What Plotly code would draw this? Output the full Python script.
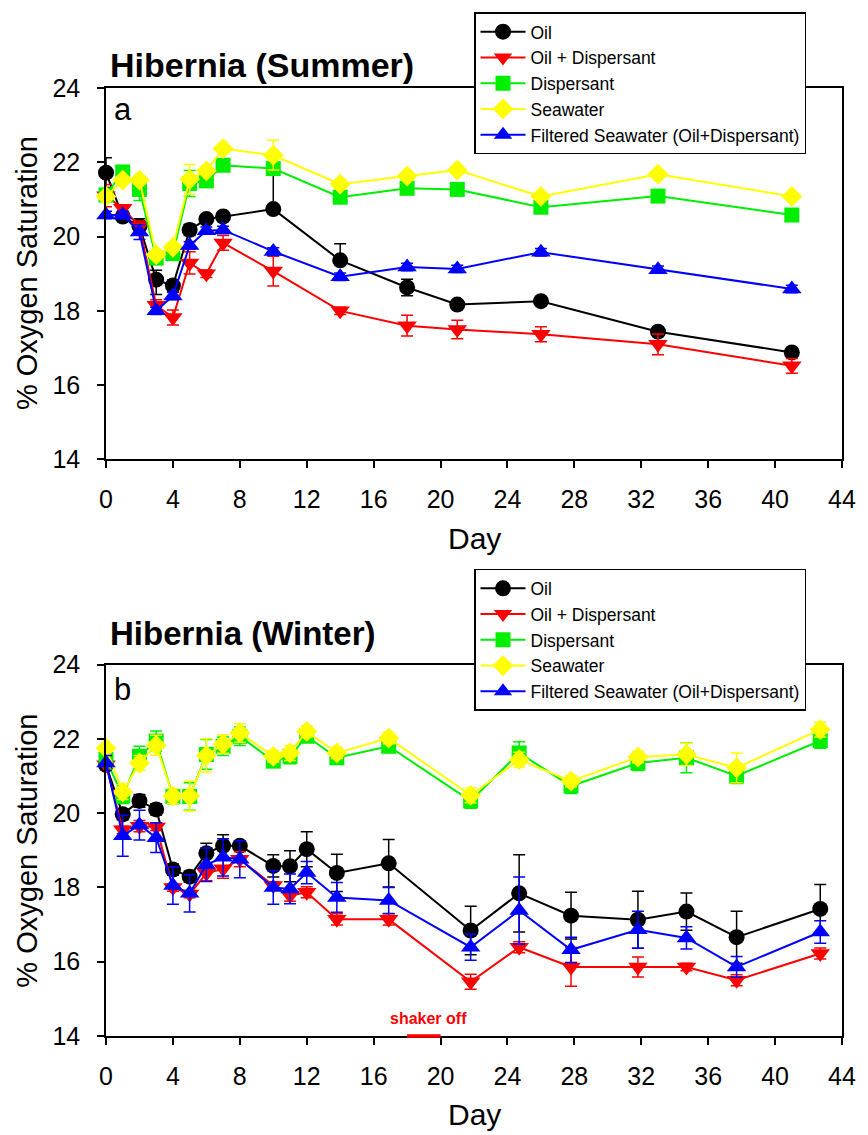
import plotly.graph_objects as go

# ---------------- data ----------------
series_names = ["Oil", "Oil + Dispersant", "Dispersant", "Seawater",
                "Filtered Seawater (Oil+Dispersant)"]

# Panel a: Hibernia (Summer)
days_summer = [0, 1, 2, 3, 4, 5, 6, 7, 10, 14, 18, 21, 26, 33, 41]
oil_s = [21.72, 20.54, 20.28, 18.84, 18.68, 20.18, 20.47, 20.54, 20.74, 19.36, 18.63, 18.17, 18.26, 17.44, 16.88]
oil_disp_s = [21.10, 20.76, 20.27, 18.15, 17.82, 19.29, 19.00, 19.83, 19.07, 18.00, 17.60, 17.50, 17.37, 17.10, 16.52]
disp_s = [21.12, 21.74, 21.27, 19.42, 19.54, 21.43, 21.50, 21.92, 21.83, 21.06, 21.30, 21.27, 20.79, 21.09, 20.58]
sea_s = [21.08, 21.52, 21.52, 19.51, 19.71, 21.54, 21.77, 22.37, 22.19, 21.41, 21.63, 21.79, 21.08, 21.68, 21.08]
filt_s = [20.58, 20.58, 20.12, 18.00, 18.40, 19.76, 20.16, 20.18, 19.60, 18.92, 19.18, 19.13, 19.58, 19.11, 18.59]

oil_s_err_up = [0.40, 0.10, 0.20, 0.25, 0.15, 0.15, 0.10, 0.10, 1.20, 0.45, 0.22, 0.10, 0.10, 0.10, 0.10]
oil_s_err_dn = [0.40, 0.10, 0.20, 0.40, 0.15, 0.15, 0.10, 0.10, 0.00, 0.10, 0.22, 0.10, 0.10, 0.10, 0.10]
oil_disp_s_err = [0.30, 0.10, 0.15, 0.15, 0.20, 0.30, 0.10, 0.20, 0.40, 0.10, 0.28, 0.25, 0.20, 0.28, 0.20]
disp_s_err = [0.15, 0.10, 0.30, 0.15, 0.10, 0.35, 0.10, 0.10, 0.15, 0.10, 0.10, 0.10, 0.10, 0.10, 0.10]
sea_s_err = [0.10, 0.10, 0.10, 0.10, 0.10, 0.40, 0.10, 0.10, 0.40, 0.12, 0.10, 0.10, 0.10, 0.10, 0.10]
filt_s_err = [0.10, 0.10, 0.20, 0.10, 0.10, 0.10, 0.10, 0.10, 0.10, 0.10, 0.10, 0.10, 0.10, 0.10, 0.10]

# Panel b: Hibernia (Winter)
days_winter = [0, 1, 2, 3, 4, 5, 6, 7, 8, 10, 11, 12, 13.8, 16.9, 21.8, 24.7, 27.8, 31.8, 34.7, 37.7, 42.7]
oil_w = [21.30, 19.97, 20.33, 20.10, 18.48, 18.29, 18.92, 19.12, 19.12, 18.58, 18.57, 19.03, 18.39, 18.65, 16.84, 17.84, 17.24, 17.13, 17.35, 16.66, 17.42]
oil_disp_w = [21.30, 19.55, 19.65, 19.63, 18.00, 17.82, 18.38, 18.50, 18.76, 18.05, 17.78, 17.87, 17.14, 17.14, 15.46, 16.39, 15.86, 15.86, 15.86, 15.50, 16.22]
disp_w = [21.45, 20.46, 21.53, 21.94, 20.45, 20.45, 21.58, 21.80, 22.07, 21.40, 21.53, 22.07, 21.49, 21.80, 20.33, 21.62, 20.73, 21.35, 21.49, 21.00, 21.95]
sea_w = [21.75, 20.57, 21.35, 21.83, 20.46, 20.46, 21.55, 21.86, 22.16, 21.53, 21.62, 22.20, 21.62, 22.02, 20.48, 21.44, 20.86, 21.51, 21.58, 21.22, 22.25]
filt_w = [21.35, 19.39, 19.68, 19.34, 18.05, 17.84, 18.61, 18.81, 18.76, 18.00, 17.96, 18.40, 17.73, 17.65, 16.39, 17.38, 16.32, 16.86, 16.64, 15.86, 16.80]

oil_w_err = [0.15, 0.15, 0.17, 0.15, 0.15, 0.15, 0.27, 0.30, 0.10, 0.30, 0.42, 0.47, 0.50, 0.64, 0.65, 1.04, 0.63, 0.77, 0.50, 0.70, 0.66]
oil_disp_w_err = [0.10, 0.10, 0.15, 0.10, 0.10, 0.10, 0.20, 0.25, 0.20, 0.10, 0.15, 0.15, 0.15, 0.15, 0.20, 0.15, 0.52, 0.27, 0.10, 0.15, 0.15]
disp_w_err = [0.10, 0.20, 0.27, 0.27, 0.20, 0.37, 0.40, 0.25, 0.25, 0.15, 0.20, 0.15, 0.15, 0.15, 0.20, 0.30, 0.20, 0.20, 0.40, 0.20, 0.20]
sea_w_err = [0.10, 0.20, 0.20, 0.27, 0.20, 0.40, 0.45, 0.25, 0.25, 0.15, 0.20, 0.15, 0.15, 0.15, 0.20, 0.20, 0.15, 0.15, 0.30, 0.40, 0.20]
filt_w_err = [0.20, 0.55, 0.40, 0.40, 0.50, 0.50, 0.45, 0.50, 0.50, 0.45, 0.40, 0.30, 0.40, 0.35, 0.35, 0.90, 0.34, 0.50, 0.30, 0.28, 0.30]

shaker_off_days = [18, 20]

x_ticks = [0, 4, 8, 12, 16, 20, 24, 28, 32, 36, 40, 44]
y_ticks = [14, 16, 18, 20, 22, 24]

# ---------------- styles ----------------
colors = ["#000000", "#ff0000", "#00ee00", "#ffff00", "#0000ff"]
symbols = ["circle", "triangle-down", "square", "diamond", "triangle-up"]
sizes = [16, 17, 15, 16, 17]
FONT = "Liberation Sans, Arial, sans-serif"

W, H = 868, 1135
L, R, T, B = 106, 18, 84, 99
PW, PH = W - L - R, H - T - B


def px(xp):
    return (xp - L) / PW


def py(yp):
    return (H - B - yp) / PH


fig = go.Figure()

summer = [oil_s, oil_disp_s, disp_s, sea_s, filt_s]
summer_up = [oil_s_err_up, oil_disp_s_err, disp_s_err, sea_s_err, filt_s_err]
summer_dn = [oil_s_err_dn, oil_disp_s_err, disp_s_err, sea_s_err, filt_s_err]
winter = [oil_w, oil_disp_w, disp_w, sea_w, filt_w]
winter_err = [oil_w_err, oil_disp_w_err, disp_w_err, sea_w_err, filt_w_err]

for i, name in enumerate(series_names):
    fig.add_trace(go.Scatter(
        x=days_summer, y=summer[i], name=name, mode="lines+markers",
        line=dict(color=colors[i], width=2),
        marker=dict(symbol=symbols[i], size=sizes[i], color=colors[i]),
        error_y=dict(type="data", array=summer_up[i], arrayminus=summer_dn[i],
                     symmetric=False, color=colors[i], thickness=1.5, width=6),
        xaxis="x", yaxis="y", legend="legend", cliponaxis=False))

for i, name in enumerate(series_names):
    fig.add_trace(go.Scatter(
        x=days_winter, y=winter[i], name=name, mode="lines+markers",
        line=dict(color=colors[i], width=2),
        marker=dict(symbol=symbols[i], size=sizes[i], color=colors[i]),
        error_y=dict(type="data", array=winter_err[i], color=colors[i],
                     thickness=1.5, width=6),
        xaxis="x2", yaxis="y2", legend="legend2", cliponaxis=False))

axis_common = dict(showline=True, linecolor="black", linewidth=1.5, mirror=True,
                   ticks="outside", ticklen=7, tickwidth=1.5, tickcolor="black",
                   showgrid=False, zeroline=False,
                   tickfont=dict(family=FONT, size=25, color="black"))

legend_common = dict(xanchor="left", yanchor="top",
                     bgcolor="white", bordercolor="black", borderwidth=1.5,
                     font=dict(family=FONT, size=17.5, color="black"),
                     itemwidth=45, tracegroupgap=0)

fig.update_layout(
    width=W, height=H,
    margin=dict(l=L, r=R, t=T, b=B),
    paper_bgcolor="white", plot_bgcolor="white",
    font=dict(family=FONT, color="black"),
    xaxis=dict(domain=[0, 1], range=[0, 44], tickvals=x_ticks, anchor="y",
               ticklabelstandoff=10, **axis_common),
    yaxis=dict(domain=[py(457), 1], range=[14, 24], tickvals=y_ticks, anchor="x",
               ticklabelstandoff=12, **axis_common),
    xaxis2=dict(domain=[0, 1], range=[0, 44], tickvals=x_ticks, anchor="y2",
                ticklabelstandoff=10, **axis_common),
    yaxis2=dict(domain=[0, py(663)], range=[14, 24], tickvals=y_ticks, anchor="x2",
                ticklabelstandoff=12, **axis_common),
    legend=dict(x=px(478), y=py(8), **legend_common),
    legend2=dict(x=px(478), y=py(567), **legend_common),
    showlegend=True,
)

# shaker off marker on winter panel (sits on the bottom axis line of panel b)
fig.add_shape(type="line", xref="x2", yref="paper", layer="above",
              x0=shaker_off_days[0], x1=shaker_off_days[1], y0=0, y1=0,
              line=dict(color="red", width=3.5))
fig.add_annotation(x=sum(shaker_off_days) / 2 + 0.25, y=14, xref="x2", yref="y2",
                   text="<b>shaker off</b>", showarrow=False,
                   yanchor="middle", yshift=17,
                   font=dict(family=FONT, size=16, color="red"))

annots = [
    dict(text="<b>Hibernia (Summer)</b>", x=px(108), y=py(61), xanchor="left",
         yanchor="middle", font=dict(size=34)),
    dict(text="<b>Hibernia (Winter)</b>", x=px(108), y=py(632), xanchor="left",
         yanchor="middle", font=dict(size=33)),
    dict(text="a", x=px(112), y=py(106), xanchor="left", yanchor="middle",
         font=dict(size=31)),
    dict(text="b", x=px(112), y=py(688), xanchor="left", yanchor="middle",
         font=dict(size=31)),
    dict(text="Day", x=px(478), y=py(536), xanchor="center", yanchor="middle",
         font=dict(size=30)),
    dict(text="Day", x=px(478), y=py(1115), xanchor="center", yanchor="middle",
         font=dict(size=30)),
    dict(text="% Oxygen Saturation", x=px(26), y=py(270), xanchor="center",
         yanchor="middle", textangle=-90, font=dict(size=29)),
    dict(text="% Oxygen Saturation", x=px(26), y=py(850), xanchor="center",
         yanchor="middle", textangle=-90, font=dict(size=29)),
]
for a in annots:
    a["font"].update(family=FONT, color="black")
    fig.add_annotation(xref="paper", yref="paper", showarrow=False, **a)

fig.write_html("out.html")
